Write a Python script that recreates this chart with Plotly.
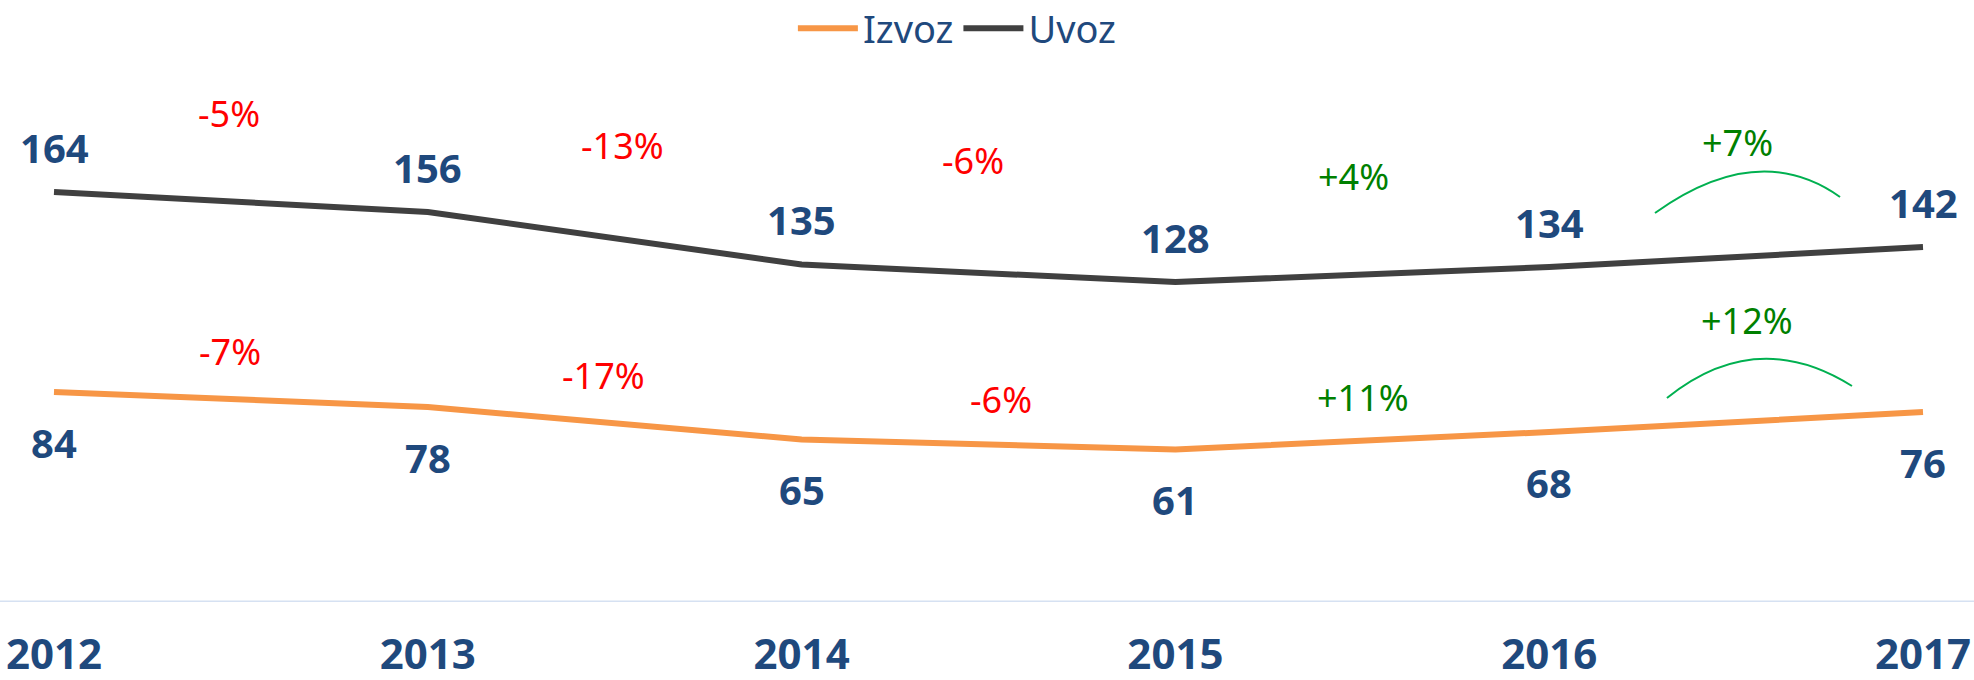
import plotly.graph_objects as go

years = [2012, 2013, 2014, 2015, 2016, 2017]
izvoz = [84, 78, 65, 61, 68, 76]
uvoz = [164, 156, 135, 128, 134, 142]
izvoz_chg = ["-7%", "-17%", "-6%", "+11%", "+12%"]
uvoz_chg = ["-5%", "-13%", "-6%", "+4%", "+7%"]

BLUE = "#1F497D"
ORANGE = "#F79646"
DARK = "#404040"
RED = "#FF0000"
GREEN = "#008000"
ARC = "#00B050"
FONT = "Noto Sans"

W, H = 1974, 680
L, R, T, B = 40, 37, 102, 78

fig = go.Figure()
fig.add_trace(go.Scatter(x=years, y=izvoz, name="Izvoz", mode="lines",
                         line=dict(color=ORANGE, width=6)))
fig.add_trace(go.Scatter(x=years, y=uvoz, name="Uvoz", mode="lines",
                         line=dict(color=DARK, width=6)))

ann = []
for x, v in zip(years, uvoz):
    ann.append(dict(x=x, y=v, text=str(v), showarrow=False, yshift=45,
                    font=dict(family=FONT, size=40, color=BLUE, weight="bold")))
for x, v in zip(years, izvoz):
    ann.append(dict(x=x, y=v, text=str(v), showarrow=False, yshift=-50,
                    font=dict(family=FONT, size=40, color=BLUE, weight="bold")))

u_yshift = [89, 93, 113, 98, 115]
u_xshift = [-12, 8, -16, -9, 1]
i_yshift = [48, 48, 45, 43, 102]
i_xshift = [-11, -11, 12, 1, 11]
for series, chg, ys, xs in [(uvoz, uvoz_chg, u_yshift, u_xshift),
                            (izvoz, izvoz_chg, i_yshift, i_xshift)]:
    for k, lab in enumerate(chg):
        xm = (years[k] + years[k + 1]) / 2
        ym = (series[k] + series[k + 1]) / 2
        ann.append(dict(x=xm, y=ym, text=lab, showarrow=False,
                        yshift=ys[k], xshift=xs[k],
                        font=dict(family=FONT, size=36,
                                  color=RED if lab.startswith("-") else GREEN)))

shapes = [
    dict(type="line", xref="paper", yref="y", x0=-L / (W - L - R), x1=1 + R / (W - L - R),
         y0=0, y1=0, line=dict(color="#D6E1F2", width=3), layer="below"),
    dict(type="path", xref="x", yref="y",
         path="M 2016.283 155.6 Q 2016.560 185.2 2016.778 162",
         line=dict(color=ARC, width=2)),
    dict(type="path", xref="x", yref="y",
         path="M 2016.315 81.6 Q 2016.554 110.4 2016.810 86.4",
         line=dict(color=ARC, width=2)),
]

e = 14 / 373.8
fig.update_layout(
    width=W, height=H,
    margin=dict(l=L, r=R, t=T, b=B),
    paper_bgcolor="white", plot_bgcolor="white",
    showlegend=True,
    legend=dict(orientation="h", xref="container", yref="container",
                x=0.485, y=0.958, xanchor="center", yanchor="middle",
                font=dict(family=FONT, size=38, color=BLUE),
                itemwidth=60, tracegroupgap=0),
    xaxis=dict(range=[2012 - e, 2017 + e], tickvals=years, automargin=False,
               ticktext=[str(y) for y in years], showgrid=False, zeroline=False,
               showline=False, ticks="outside", ticklen=16, tickcolor="rgba(0,0,0,0)",
               tickfont=dict(family=FONT, size=42, color=BLUE, weight="bold")),
    yaxis=dict(range=[0, 200], visible=False, showgrid=False, automargin=False),
    annotations=ann,
    shapes=shapes,
)

fig.write_html("out.html", config={"displayModeBar": False},
               post_script="document.body.style.margin='0';document.body.style.overflow='hidden';")
